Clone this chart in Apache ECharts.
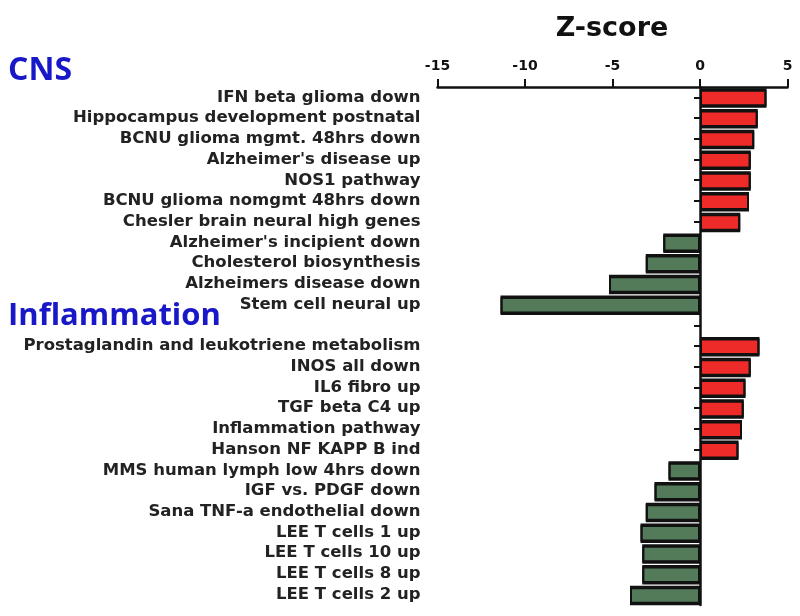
<!DOCTYPE html>
<html>
<head>
<meta charset="utf-8">
<script src="https://cdn.jsdelivr.net/npm/echarts@6/dist/echarts.min.js"></script>
<style>html,body{margin:0;padding:0;background:#fff}#c{width:800px;height:616px}</style>
</head>
<body>
<div id="c"></div>
<script>
const categories = [
  "IFN beta glioma down",
  "Hippocampus development postnatal",
  "BCNU glioma mgmt. 48hrs down",
  "Alzheimer's disease up",
  "NOS1 pathway",
  "BCNU glioma nomgmt 48hrs down",
  "Chesler brain neural high genes",
  "Alzheimer's incipient down",
  "Cholesterol biosynthesis",
  "Alzheimers disease down",
  "Stem cell neural up",
  "",
  "Prostaglandin and leukotriene metabolism",
  "INOS all down",
  "IL6 fibro up",
  "TGF beta C4 up",
  "Inflammation pathway",
  "Hanson NF KAPP B ind",
  "MMS human lymph low 4hrs down",
  "IGF vs. PDGF down",
  "Sana TNF-a endothelial down",
  "LEE T cells 1 up",
  "LEE T cells 10 up",
  "LEE T cells 8 up",
  "LEE T cells 2 up"
];
const zScores = [3.8, 3.3, 3.1, 2.9, 2.9, 2.8, 2.3, -2.1, -3.1, -5.2, -11.4, null,
  3.4, 2.9, 2.6, 2.5, 2.4, 2.2, -1.8, -2.6, -3.1, -3.4, -3.3, -3.3, -4.0];
const xTicks = { min: -15, max: 5, interval: 5 };
const groupLabels = ["CNS", "Inflammation"];

const chart = echarts.init(document.getElementById('c'));
const lblFont = { fontFamily: 'DejaVu Sans', fontWeight: 'bold', fontSize: 16.5, color: '#222' };
chart.setOption({
  animation: false,
  backgroundColor: '#fff',
  title: {
    text: 'Z-score', left: 607, top: 10, textAlign: 'center',
    textStyle: { fontFamily: 'DejaVu Sans', fontWeight: 'bold', fontSize: 27, color: '#111' }
  },
  grid: { left: 437.5, right: 12.5, top: 87, bottom: 11 },
  xAxis: {
    type: 'value', position: 'top', min: xTicks.min, max: xTicks.max, interval: xTicks.interval,
    splitLine: { show: false },
    axisLine: { show: true, onZero: false, lineStyle: { color: '#111', width: 2.5 } },
    axisTick: { show: true, length: 8, lineStyle: { color: '#111', width: 2 } },
    axisLabel: { margin: 14, fontFamily: 'DejaVu Sans', fontWeight: 'bold', fontSize: 14, color: '#111' }
  },
  yAxis: [{
    type: 'category', data: categories, inverse: true,
    axisLine: { show: false, onZero: false }, axisTick: { show: false },
    axisLabel: Object.assign({ margin: 17, interval: 0, hideOverlap: false }, lblFont)
  }, {
    type: 'category', data: categories, inverse: true, position: 'left',
    axisLine: { show: true, onZero: true, lineStyle: { color: '#111', width: 2.5 } },
    axisTick: { show: true, interval: 0, alignWithLabel: true, length: 6, lineStyle: { color: '#111', width: 2 } },
    axisLabel: { show: false, interval: 0 }
  }],
  series: [{
    type: 'bar', yAxisIndex: 0, data: zScores, barWidth: 18,
    itemStyle: {
      borderColor: '#111', borderWidth: 2,
      shadowColor: '#111', shadowBlur: 0, shadowOffsetX: 0, shadowOffsetY: 1.5,
      color: p => (p.value >= 0 ? '#ee2b28' : '#537b5a')
    }
  }],
  graphic: [
    { type: 'text', left: 8, top: 55, style: { text: groupLabels[0], fontFamily: 'Open Sans', fontWeight: 'bold', fontSize: 32, fill: '#1818c8' } },
    { type: 'text', left: 8, top: 301, style: { text: groupLabels[1], fontFamily: 'Open Sans', fontWeight: 'bold', fontSize: 31, fill: '#1818c8' } }
  ]
});
</script>
</body>
</html>
